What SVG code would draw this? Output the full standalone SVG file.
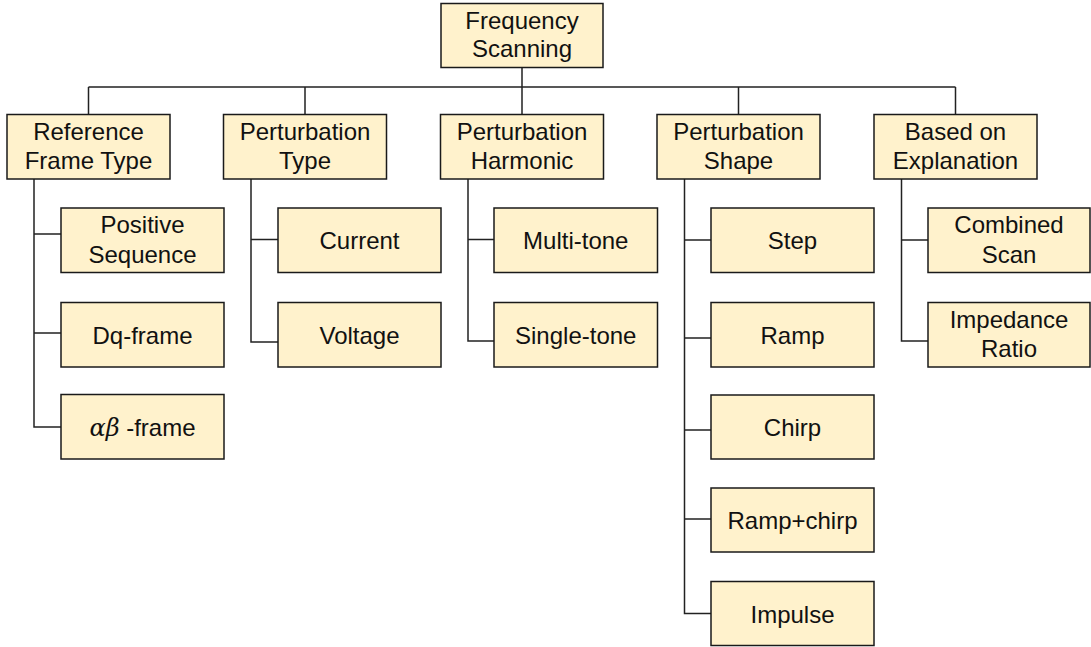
<svg xmlns="http://www.w3.org/2000/svg" width="1091" height="647" viewBox="0 0 1091 647">
<style>
.box{fill:#FFF2CC;stroke:#1a1a1a;stroke-width:1.5}
.ln{fill:none;stroke:#222;stroke-width:1.5}
text{font-family:"Liberation Sans",Arial,sans-serif;font-size:24px;fill:#111;text-anchor:middle}
.m{font-family:"DejaVu Serif","Liberation Serif",serif;font-style:italic}
</style>
<rect width="1091" height="647" fill="#fff"/>
<g id="connectors">
<path class="ln" d="M522 67.5V87M88.5 87H955.5M88.5 87V114.5M305 87V114.5M522 87V114.5M738.5 87V114.5M955.5 87V114.5"/>
<path class="ln" d="M34 179V427H61M34 234H61M34 333H61"/>
<path class="ln" d="M251 179V342H278M251 239.5H278"/>
<path class="ln" d="M468 179V341H494M468 239.5H494"/>
<path class="ln" d="M684.5 179V613.5H711M684.5 240H711M684.5 338H711M684.5 430H711M684.5 519H711"/>
<path class="ln" d="M901.5 179V341H928M901.5 240H928"/>
</g>
<g id="n-root"><rect class="box" x="441" y="3.5" width="162" height="64"/><text x="522" y="28.5">Frequency</text><text x="522" y="57">Scanning</text></g>
<g id="n-ref"><rect class="box" x="7" y="114.5" width="163" height="64.5"/><text x="88.5" y="139.5">Reference</text><text x="88.5" y="169">Frame Type</text></g>
<g id="n-ptype"><rect class="box" x="223.5" y="114.5" width="163" height="64.5"/><text x="305" y="139.5">Perturbation</text><text x="305" y="169">Type</text></g>
<g id="n-pharm"><rect class="box" x="440.5" y="114.5" width="163" height="64.5"/><text x="522" y="139.5">Perturbation</text><text x="522" y="169">Harmonic</text></g>
<g id="n-pshape"><rect class="box" x="657" y="114.5" width="163" height="64.5"/><text x="738.5" y="139.5">Perturbation</text><text x="738.5" y="169">Shape</text></g>
<g id="n-based"><rect class="box" x="874" y="114.5" width="163" height="64.5"/><text x="955.5" y="139.5">Based on</text><text x="955.5" y="169">Explanation</text></g>
<g id="n-pos"><rect class="box" x="61" y="208" width="163" height="64.5"/><text x="142.5" y="233">Positive</text><text x="142.5" y="262.5">Sequence</text></g>
<g id="n-dq"><rect class="box" x="61" y="302.5" width="163" height="64.5"/><text x="142.5" y="343.5">Dq-frame</text></g>
<g id="n-ab"><rect class="box" x="61" y="394.5" width="163" height="64.5"/><text x="142.5" y="435.5"><tspan class="m">αβ</tspan> -frame</text></g>
<g id="n-cur"><rect class="box" x="278" y="208" width="163" height="64.5"/><text x="359.5" y="249">Current</text></g>
<g id="n-volt"><rect class="box" x="278" y="302.5" width="163" height="64.5"/><text x="359.5" y="343.5">Voltage</text></g>
<g id="n-multi"><rect class="box" x="494" y="208" width="163.5" height="64.5"/><text x="575.75" y="249">Multi-tone</text></g>
<g id="n-single"><rect class="box" x="494" y="302.5" width="163.5" height="64.5"/><text x="575.75" y="343.5">Single-tone</text></g>
<g id="n-step"><rect class="box" x="711" y="208" width="163" height="64.5"/><text x="792.5" y="249">Step</text></g>
<g id="n-ramp"><rect class="box" x="711" y="302.5" width="163" height="64.5"/><text x="792.5" y="343.5">Ramp</text></g>
<g id="n-chirp"><rect class="box" x="711" y="395" width="163" height="64"/><text x="792.5" y="436">Chirp</text></g>
<g id="n-rampchirp"><rect class="box" x="711" y="488" width="163" height="64"/><text x="792.5" y="529">Ramp+chirp</text></g>
<g id="n-impulse"><rect class="box" x="711" y="581.5" width="163" height="64"/><text x="792.5" y="622.5">Impulse</text></g>
<g id="n-comb"><rect class="box" x="928" y="208" width="162" height="64.5"/><text x="1009" y="233">Combined</text><text x="1009" y="262.5">Scan</text></g>
<g id="n-imp"><rect class="box" x="928" y="302.5" width="162" height="64.5"/><text x="1009" y="327.5">Impedance</text><text x="1009" y="357">Ratio</text></g>
</svg>
